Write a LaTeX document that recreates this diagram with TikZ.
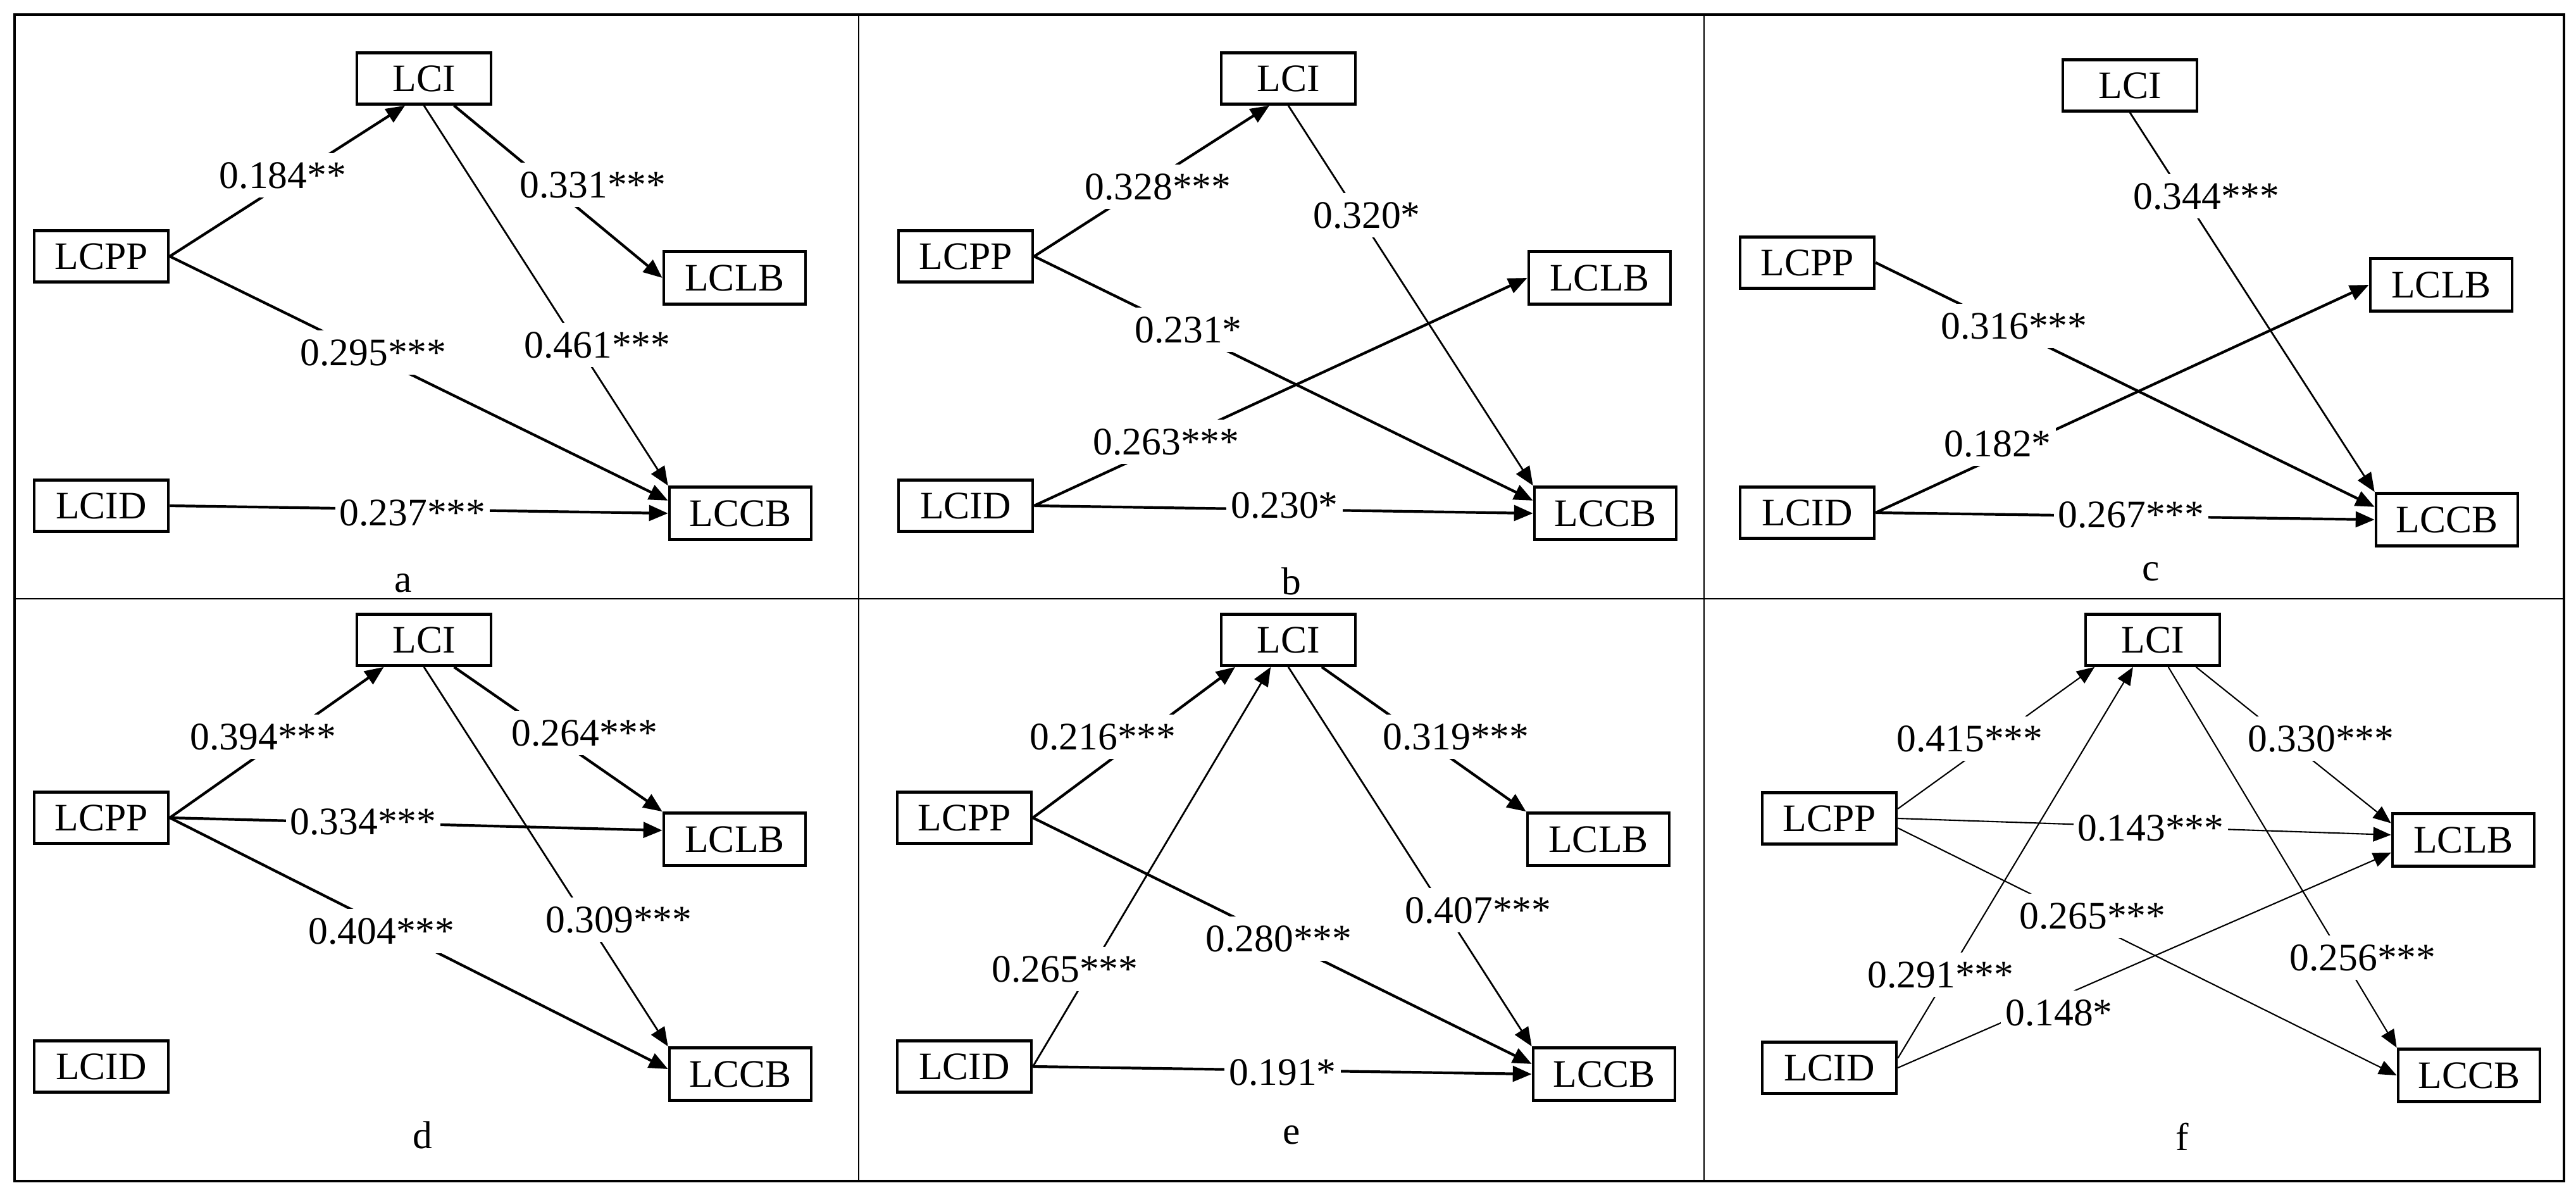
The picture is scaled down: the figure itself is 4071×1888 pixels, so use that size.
\documentclass[tikz,border=0pt]{standalone}
\usepackage{fontspec}
\setmainfont{Liberation Serif}
\usetikzlibrary{arrows.meta}

\begin{document}
\begin{tikzpicture}[x=0.01cm, y=-0.01cm,
        every node/.style={font=\fontsize{17.5}{20}\selectfont},
        var/.style={draw, line width=1.3pt, minimum width=2.12cm, minimum height=0.81cm, inner sep=0pt},
        varw/.style={var, minimum width=2.24cm, minimum height=0.83cm},
        link/.style={line width=1.2pt, -{Triangle[length=8.5pt,width=7pt]}},
        thinlink/.style={link, line width=0.8pt},
        finelink/.style={line width=0.6pt, -{Triangle[length=8pt,width=6.5pt]}},
        coef/.style={fill=white, inner xsep=2pt, inner ysep=4pt}]
    \useasboundingbox (0,0) rectangle (4071,1888);

    % frame
    \draw[line width=1.4pt] (23,23) rectangle (4052,1866);
    \draw[line width=0.75pt] (23,946) -- (4052,946) (1357,23) -- (1357,1866) (2693,23) -- (2693,1866);

    % a
    \begin{scope}[name prefix=a-]
        \node[var] (LCI) at (670,124) {LCI};
        \node[var] (LCPP) at (160,405) {LCPP};
        \node[varw] (LCLB) at (1161,439) {LCLB};
        \node[var] (LCID) at (160,799) {LCID};
        \node[varw] (LCCB) at (1170,811) {LCCB};
        \draw[link] (LCPP.east) -- (LCI.-125);
        \draw[link] (LCI.-42) -- (LCLB.west);
        \draw[thinlink] (LCI.south) -- (LCCB.north west);
        \draw[link] (LCPP.east) -- (LCCB.170);
        \draw[link] (LCID.east) -- (LCCB.west);
        \node[coef] (c1) at (447,277) {0.184**};
        \node[coef] (c2) at (937,292) {0.331***};
        \node[coef] (c3) at (944,545) {0.461***};
        \node[coef] (c4) at (590,557) {0.295***};
        \node[coef] (c5) at (652,810) {0.237***};
        \node (tag) at (637,921) {a};
    \end{scope}

    % b
    \begin{scope}[name prefix=b-]
        \node[var] (LCI) at (2036,124) {LCI};
        \node[var] (LCPP) at (1526,405) {LCPP};
        \node[varw] (LCLB) at (2528,439) {LCLB};
        \node[var] (LCID) at (1526,799) {LCID};
        \node[varw] (LCCB) at (2537,811) {LCCB};
        \draw[link] (LCPP.east) -- (LCI.-125);
        \draw[thinlink] (LCI.south) -- (LCCB.north west);
        \draw[link] (LCPP.east) -- (LCCB.170);
        \draw[link] (LCID.east) -- (LCLB.west);
        \draw[link] (LCID.east) -- (LCCB.west);
        \node[coef] (c1) at (1830,295) {0.328***};
        \node[coef] (c2) at (2160,340) {0.320*};
        \node[coef] (c3) at (1878,521) {0.231*};
        \node[coef] (c4) at (1843,698) {0.263***};
        \node[coef] (c5) at (2030,798) {0.230*};
        \node (tag) at (2041,918) {b};
    \end{scope}

    % c
    \begin{scope}[name prefix=c-]
        \node[var] (LCI) at (3366,135) {LCI};
        \node[var] (LCPP) at (2856,415) {LCPP};
        \node[varw] (LCLB) at (3858,450) {LCLB};
        \node[var] (LCID) at (2856,810) {LCID};
        \node[varw] (LCCB) at (3867,821) {LCCB};
        \draw[thinlink] (LCI.south) -- (LCCB.north west);
        \draw[link] (LCPP.east) -- (LCCB.170);
        \draw[link] (LCID.east) -- (LCLB.west);
        \draw[link] (LCID.east) -- (LCCB.west);
        \node[coef] (c1) at (3487,310) {0.344***};
        \node[coef] (c2) at (3183,515) {0.316***};
        \node[coef] (c3) at (3157,701) {0.182*};
        \node[coef] (c4) at (3368,813) {0.267***};
        \node (tag) at (3399,903) {c};
    \end{scope}

    % d
    \begin{scope}[name prefix=d-]
        \node[var] (LCI) at (670,1011) {LCI};
        \node[var] (LCPP) at (160,1292) {LCPP};
        \node[varw] (LCLB) at (1161,1326) {LCLB};
        \node[var] (LCID) at (160,1685) {LCID};
        \node[varw] (LCCB) at (1170,1697) {LCCB};
        \draw[link] (LCPP.east) -- (LCI.-146);
        \draw[link] (LCI.-42) -- (LCLB.north west);
        \draw[thinlink] (LCI.south) -- (LCCB.north west);
        \draw[link] (LCPP.east) -- (LCLB.173);
        \draw[link] (LCPP.east) -- (LCCB.176);
        \node[coef] (c1) at (416,1164) {0.394***};
        \node[coef] (c2) at (924,1158) {0.264***};
        \node[coef] (c3) at (574,1298) {0.334***};
        \node[coef] (c4) at (978,1453) {0.309***};
        \node[coef] (c5) at (603,1471) {0.404***};
        \node (tag) at (668,1793) {d};
    \end{scope}

    % e
    \begin{scope}[name prefix=e-]
        \node[var] (LCI) at (2036,1011) {LCI};
        \node[var] (LCPP) at (1524,1292) {LCPP};
        \node[varw] (LCLB) at (2526,1326) {LCLB};
        \node[var] (LCID) at (1524,1685) {LCID};
        \node[varw] (LCCB) at (2535,1697) {LCCB};
        \draw[link] (LCPP.east) -- (LCI.-153);
        \draw[thinlink] (LCID.east) -- (LCI.-123);
        \draw[link] (LCI.-39) -- (LCLB.north west);
        \draw[thinlink] (LCI.south) -- (LCCB.north west);
        \draw[link] (LCPP.east) -- (LCCB.172);
        \draw[link] (LCID.east) -- (LCCB.west);
        \node[coef] (c1) at (1743,1164) {0.216***};
        \node[coef] (c2) at (2301,1164) {0.319***};
        \node[coef] (c3) at (2336,1438) {0.407***};
        \node[coef] (c4) at (2021,1483) {0.280***};
        \node[coef] (c5) at (1683,1531) {0.265***};
        \node[coef] (c6) at (2027,1694) {0.191*};
        \node (tag) at (2041,1793) {e};
    \end{scope}

    % f
    \begin{scope}[name prefix=f-]
        \node[var] (LCI) at (3402,1011) {LCI};
        \node[var] (LCPP) at (2891,1293) {LCPP};
        \node[varw] (LCLB) at (3893,1327) {LCLB};
        \node[var] (LCID) at (2891,1687) {LCID};
        \node[varw] (LCCB) at (3902,1699) {LCCB};
        \draw[finelink] (LCPP.8) -- (LCI.-155);
        \draw[finelink] (LCID.8) -- (LCI.-126);
        \draw[finelink] (LCI.-32) -- (LCLB.167);
        \draw[finelink] (LCI.-60) -- (LCCB.north west);
        \draw[finelink] (LCPP.east) -- (LCLB.176);
        \draw[finelink] (LCPP.-8) -- (LCCB.west);
        \draw[finelink] (LCID.east) -- (LCLB.-170);
        \node[coef] (c1) at (3113,1167) {0.415***};
        \node[coef] (c2) at (3668,1167) {0.330***};
        \node[coef] (c3) at (3399,1308) {0.143***};
        \node[coef] (c4) at (3307,1447) {0.265***};
        \node[coef] (c5) at (3734,1513) {0.256***};
        \node[coef] (c6) at (3067,1540) {0.291***};
        \node[coef] (c7) at (3254,1600) {0.148*};
        \node (tag) at (3449,1796) {f};
    \end{scope}
\end{tikzpicture}
\end{document}
